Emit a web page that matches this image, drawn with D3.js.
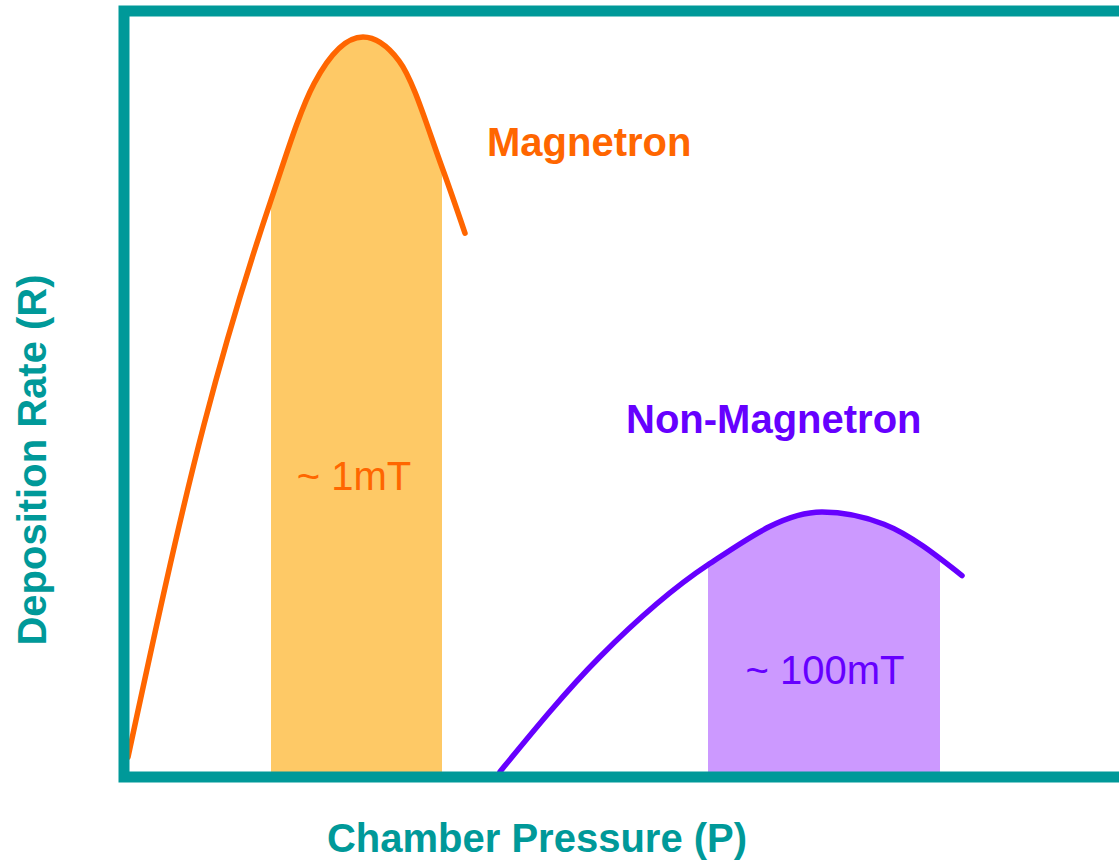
<!DOCTYPE html>
<html>
<head>
<meta charset="utf-8">
<script src="https://cdn.jsdelivr.net/npm/d3@7"></script>
<style>
  body { margin: 0; background: #fff; }
  text { font-family: "Liberation Sans", Arial, sans-serif; }
</style>
</head>
<body>
<div id="chart"></div>
<script>
// curve shapes, in relative units (pressure 0-100, rate 0-100)
const magnetronP = [0.4, 8.0, 14.7, 19.0, 23.9, 27.5, 31.8, 34.1];
const magnetronR = [2.6, 46.0, 75.3, 90.5, 96.6, 93.5, 79.6, 71.0];
const nonMagP = [37.6, 47.6, 58.4, 69.8, 76.0, 83.8];
const nonMagR = [0.7, 15.7, 27.7, 34.6, 33.0, 26.3];

// shaded operating windows
const magnetronBand = [14.7, 31.8];
const nonMagBand = [58.4, 81.6];

const seriesLabels = ["Magnetron", "Non-Magnetron"];
const bandLabels = ["~ 1mT", "~ 100mT"];
const xLabel = "Chamber Pressure (P)";
const yLabel = "Deposition Rate (R)";

const width = 1119, height = 861;
const margin = {top: 11, left: 124, bottom: 84};
const teal = "#009999";

const svg = d3.select("#chart").append("svg")
  .attr("width", width)
  .attr("height", height);

const x = d3.scaleLinear().domain([0, 100]).range([margin.left, margin.left + 1000]);
const y = d3.scaleLinear().domain([0, 100]).range([height - margin.bottom, margin.top]);

const series = [
  {p: magnetronP, r: magnetronR, band: magnetronBand, line: "#ff6600", fill: "#fec966", text: "#ff6600"},
  {p: nonMagP, r: nonMagR, band: nonMagBand, line: "#6600ff", fill: "#cc99ff", text: "#6600ff"}
];

const line = d3.line()
  .x(d => x(d[0]))
  .y(d => y(d[1]))
  .curve(d3.curveMonotoneX);

const area = d3.area()
  .x(d => x(d[0]))
  .y0(y(0))
  .y1(d => y(d[1]))
  .curve(d3.curveMonotoneX);

const defs = svg.append("defs");

series.forEach((s, i) => {
  const pts = s.p.map((v, j) => [v, s.r[j]]);

  // band under the curve, clipped to the band range
  defs.append("clipPath").attr("id", "band" + i)
    .append("rect")
      .attr("x", x(s.band[0]))
      .attr("y", 0)
      .attr("width", x(s.band[1]) - x(s.band[0]))
      .attr("height", height);

  svg.append("path")
    .attr("d", area(pts))
    .attr("fill", s.fill)
    .attr("clip-path", `url(#band${i})`);

  svg.append("path")
    .attr("d", line(pts))
    .attr("fill", "none")
    .attr("stroke", s.line)
    .attr("stroke-width", 5.5)
    .attr("stroke-linecap", "round");
});

// frame (right side runs off the picture)
svg.append("path")
  .attr("d", `M${x(110)},${y(100)} H${x(0)} V${y(0)} H${x(110)}`)
  .attr("fill", "none")
  .attr("stroke", teal)
  .attr("stroke-width", 11);

// series labels
svg.append("text")
  .attr("x", x(36.3)).attr("y", 156)
  .attr("fill", series[0].text)
  .attr("font-size", 40).attr("font-weight", "bold")
  .text(seriesLabels[0]);

svg.append("text")
  .attr("x", x(50.2)).attr("y", 433)
  .attr("fill", series[1].text)
  .attr("font-size", 40).attr("font-weight", "bold")
  .text(seriesLabels[1]);

// band labels
svg.append("text")
  .attr("x", x(23.0)).attr("y", 490)
  .attr("text-anchor", "middle")
  .attr("fill", "#ff6600")
  .attr("font-size", 40)
  .text(bandLabels[0]);

svg.append("text")
  .attr("x", x(70.1)).attr("y", 684)
  .attr("text-anchor", "middle")
  .attr("fill", "#6600ff")
  .attr("font-size", 40)
  .text(bandLabels[1]);

// axis titles
svg.append("text")
  .attr("x", 537).attr("y", 852)
  .attr("text-anchor", "middle")
  .attr("fill", teal)
  .attr("font-size", 40).attr("font-weight", "bold")
  .text(xLabel);

svg.append("text")
  .attr("transform", "translate(46,460) rotate(-90)")
  .attr("text-anchor", "middle")
  .attr("fill", teal)
  .attr("font-size", 40).attr("font-weight", "bold")
  .text(yLabel);
</script>
</body>
</html>
